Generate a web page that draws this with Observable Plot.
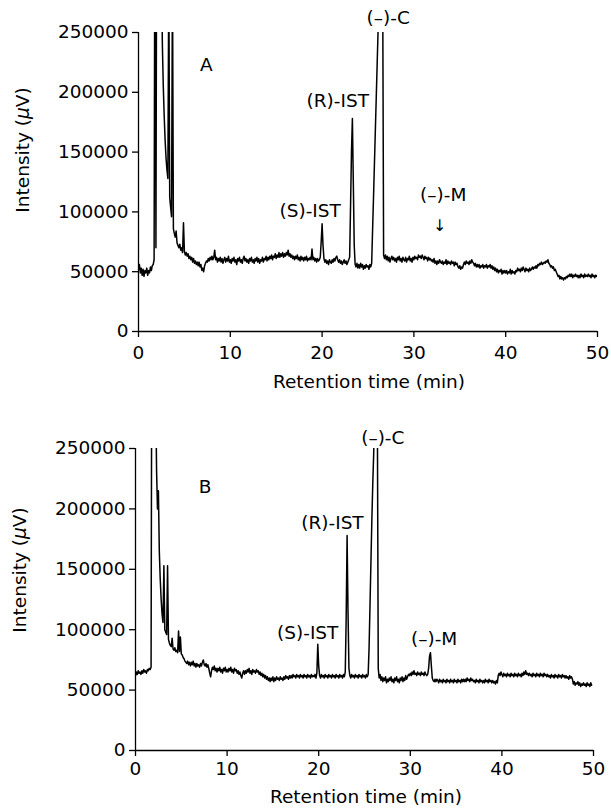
<!DOCTYPE html>
<html>
<head>
<meta charset="utf-8">
<script src="https://cdn.jsdelivr.net/npm/d3@7"></script>
<script src="https://cdn.jsdelivr.net/npm/@observablehq/plot@0.6"></script>
<style>
  html, body { margin: 0; padding: 0; background: #fff; }
  #chart { width: 611px; }
  #chart svg { display: block; }
</style>
</head>
<body>
<div id="chart"></div>
<script>
// ---- data (intensity in thousands of µV, sampled every 0.1 min) ----
const sampleStep = 0.1; // min
const intensityA_k = [
  52,56,49,53,47,52,46,51,49,53,
  47,51,49,54,51,55,56,60,420,70,
  420,420,420,420,420,300,240,205,180,160,
  145,135,128,300,112,104,96,300,86,82,
  79,84,74,72,70,73,68,70,66,91,
  67,64,66,63,65,61,63,60,62,58,
  61,57,59,56,58,55,58,54,56,51,
  53,50,55,57,59,58,61,59,62,60,
  63,60,62,68,60,62,58,61,59,62,
  58,61,57,60,62,58,61,59,63,58,
  60,57,61,59,62,58,60,56,61,59,
  62,58,60,57,61,63,59,61,58,60,
  57,61,59,62,58,60,57,61,59,62,
  58,61,57,60,59,62,58,61,60,63,
  59,62,60,63,61,64,60,63,62,65,
  61,64,62,66,62,65,63,66,62,65,
  63,66,64,68,63,65,62,64,61,63,
  60,63,61,64,60,62,59,63,60,62,
  59,62,60,63,59,61,60,62,60,69,
  60,62,59,61,58,61,59,60,62,75,
  90,72,61,58,60,57,59,56,60,58,
  57,60,58,61,59,62,63,60,58,60,
  57,59,56,58,60,57,59,56,58,60,
  62,105,150,178,125,72,56,54,57,53,
  56,53,57,54,56,52,55,53,56,54,
  55,52,56,54,57,85,112,140,168,196,
  224,252,290,320,330,320,290,64,61,64,
  60,63,59,62,58,61,63,60,62,59,
  61,58,62,60,63,59,61,58,62,60,
  59,62,58,61,60,63,59,61,58,62,
  60,63,61,62,60,64,62,63,61,64,
  62,60,63,61,62,59,62,60,61,59,
  60,58,61,57,59,56,59,57,60,58,
  57,59,56,58,57,60,56,59,57,58,
  56,59,57,58,55,58,56,57,54,53,
  55,52,54,53,56,58,56,59,57,58,
  56,59,57,60,58,57,55,57,54,56,
  54,56,53,55,54,56,53,55,54,56,
  53,55,54,56,53,55,52,54,51,53,
  50,52,49,51,50,52,48,51,49,51,
  49,51,48,50,49,52,48,51,49,50,
  48,51,50,53,51,52,50,53,51,54,
  52,50,53,51,52,50,53,51,52,54,
  52,54,53,55,53,56,55,57,56,58,
  56,57,58,57,59,58,60,57,56,54,
  55,53,54,51,52,50,48,46,47,44,
  46,44,45,43,45,44,46,45,47,46,
  48,46,48,45,47,46,48,46,47,45,
  47,45,48,46,47,45,48,46,47,46,
  48,46,47,45,48,46,47,45,47,46,
  47
];
const intensityB_k = [
  62,65,63,66,64,65,63,66,64,67,
  65,66,64,67,66,68,67,69,420,420,
  420,420,300,232,200,215,165,142,125,113,
  106,153,100,98,96,153,92,89,87,86,
  93,84,83,85,82,83,81,99,82,94,
  80,79,77,76,74,73,72,74,71,73,
  70,73,71,74,70,72,69,72,70,71,
  69,72,70,73,75,71,70,72,69,71,
  68,64,61,66,69,67,70,66,68,65,
  68,66,69,65,67,64,68,66,69,65,
  67,65,68,66,69,65,67,64,68,66,
  67,64,66,63,65,62,60,64,66,63,
  66,64,67,65,68,64,66,63,67,65,
  66,64,67,65,66,63,65,62,64,61,
  63,60,62,59,61,58,60,57,60,58,
  61,57,60,58,61,59,60,58,61,59,
  60,58,61,59,62,60,61,59,62,60,
  62,60,63,61,62,60,63,61,62,60,
  63,61,62,60,63,61,62,60,63,61,
  62,60,63,61,62,61,63,60,64,88,
  70,62,60,63,61,62,60,63,61,62,
  60,63,61,62,60,63,61,62,60,63,
  61,62,60,63,61,62,60,63,61,65,
  110,178,115,68,62,60,63,61,62,60,
  63,61,62,60,63,61,62,60,63,61,
  62,60,63,61,63,85,120,155,190,220,
  245,280,320,330,290,68,60,63,58,61,
  57,60,58,61,56,59,57,60,58,61,
  57,59,56,60,58,61,57,59,56,60,
  58,61,57,60,58,62,59,61,63,62,
  64,62,65,63,66,63,64,62,65,63,
  64,62,65,63,64,62,65,63,62,63,
  68,78,81,70,60,58,57,59,57,59,
  58,56,59,57,58,56,59,57,58,56,
  59,57,58,56,59,57,58,56,59,57,
  58,56,59,57,58,56,59,57,59,57,
  59,57,60,58,59,57,60,58,59,57,
  58,56,59,57,58,56,59,57,58,56,
  58,56,59,57,58,56,59,57,58,56,
  58,56,57,55,58,56,62,64,62,65,
  63,61,64,62,63,61,64,62,63,61,
  64,62,63,61,64,62,63,61,64,62,
  63,61,64,62,65,63,66,63,64,62,
  64,62,63,61,64,62,63,61,64,62,
  63,61,64,62,63,61,64,62,63,61,
  63,61,62,60,63,61,62,60,63,61,
  62,60,63,61,62,60,63,61,62,60,
  62,60,61,59,62,60,61,59,55,57,
  54,56,55,57,54,56,53,55,54,56,
  54,55,53,56,54,55,53,56,54
];
const xTicks = [0, 10, 20, 30, 40, 50];
const yTicks = [0, 50000, 100000, 150000, 200000, 250000];
const xLabel = "Retention time (min)";
const yLabelParts = ["Intensity (", "\u03bc", "V)"];

const labelsA = [
  {label: "A", t: 7.4, v: 223000},
  {label: "(\u2013)-C", t: 27.2, v: 262000},
  {label: "(R)-IST", t: 21.7, v: 193000},
  {label: "(S)-IST", t: 18.7, v: 101000},
  {label: "(\u2013)-M", t: 33.2, v: 114000}
];
const arrowA = [{label: "\u2193", t: 32.8, v: 88000}];
const labelsB = [
  {label: "B", t: 7.6, v: 218000},
  {label: "(\u2013)-C", t: 27.0, v: 259000},
  {label: "(R)-IST", t: 21.5, v: 188000},
  {label: "(S)-IST", t: 18.8, v: 97500},
  {label: "(\u2013)-M", t: 32.6, v: 92500}
];

const toRows = arr => arr.map((v, i) => ({t: Math.round(i * sampleStep * 10) / 10, v: v * 1000}));
const dataA = toRows(intensityA_k);
const dataB = toRows(intensityB_k);

const FONT = "DejaVu Sans, sans-serif";
const FS = 18.5;

function panel(data, labels, extra, opts) {
  const marks = [
    Plot.line(data, {x: "t", y: "v", stroke: "#000", strokeWidth: 1.5, clip: true}),
    Plot.ruleX([0], {y1: 0, y2: 250000, stroke: "#000", strokeWidth: 1.3}),
    Plot.ruleY([0], {x1: 0, x2: 50, stroke: "#000", strokeWidth: 1.3}),
    Plot.axisX({ticks: xTicks, tickSize: 6, tickPadding: opts.xPad, tickFormat: d => String(d), label: null, strokeWidth: 1.3, fontSize: FS}),
    Plot.axisY({ticks: yTicks, tickSize: 6, tickPadding: 4, tickFormat: d => String(d), label: null, strokeWidth: 1.3, fontSize: FS}),
    Plot.text(labels, {x: "t", y: "v", text: "label", fontSize: FS, fill: "#000"})
  ];
  if (extra) marks.push(Plot.text(extra, {x: "t", y: "v", text: "label", fontSize: 16, fill: "#000"}));
  const svg = Plot.plot({
    width: 611,
    height: opts.height,
    marginLeft: opts.ml,
    marginRight: opts.mr,
    marginTop: opts.mt,
    marginBottom: opts.mb,
    x: {domain: [0, 50]},
    y: {domain: [0, 250000]},
    style: {fontFamily: FONT, fontSize: FS + "px", color: "#000", background: "#fff", overflow: "visible"},
    marks
  });
  const s = d3.select(svg);
  s.append("text")
    .attr("x", opts.xlx).attr("y", opts.xly)
    .attr("text-anchor", "middle")
    .attr("font-family", FONT).attr("font-size", FS).attr("fill", "#000")
    .text(xLabel);
  const yl = s.append("text")
    .attr("transform", `translate(${opts.ylx},${opts.yly}) rotate(-90)`)
    .attr("text-anchor", "middle")
    .attr("font-family", FONT).attr("font-size", FS).attr("fill", "#000");
  yl.append("tspan").text(yLabelParts[0]);
  yl.append("tspan").attr("font-style", "italic").text(yLabelParts[1]);
  yl.append("tspan").text(yLabelParts[2]);
  return svg;
}

const chart = document.getElementById("chart");
chart.append(panel(dataA, labelsA, arrowA, {
  height: 400, ml: 138, mr: 14, mt: 32, mb: 69, xPad: 8,
  xlx: 369, xly: 388, ylx: 29, yly: 150
}));
chart.append(panel(dataB, labelsB, null, {
  height: 412, ml: 135, mr: 18, mt: 48, mb: 62, xPad: 5,
  xlx: 366, xly: 403, ylx: 26, yly: 170
}));
</script>
</body>
</html>
